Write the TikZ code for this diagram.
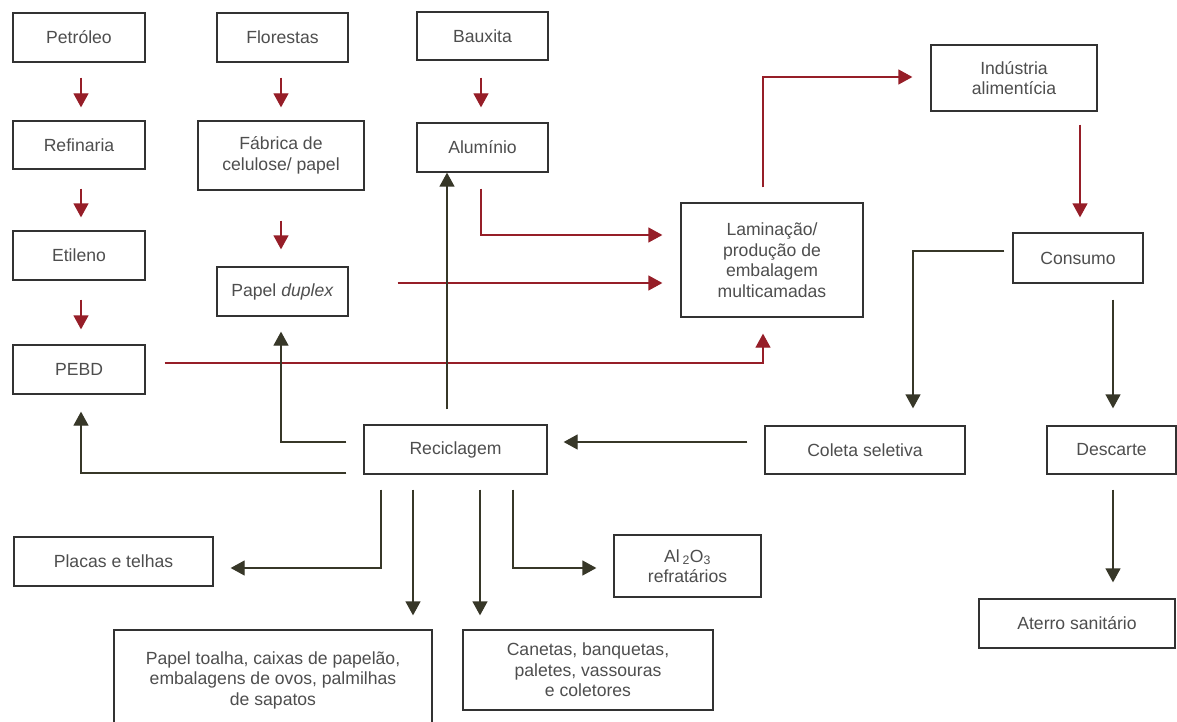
\documentclass[tikz,border=0pt]{standalone}
\usepackage{fontspec}
\setmainfont{Liberation Sans}
\usetikzlibrary{arrows.meta,calc}
\definecolor{redc}{RGB}{150,30,40}
\definecolor{darkc}{RGB}{55,55,40}
\definecolor{boxc}{RGB}{50,50,50}
\definecolor{txtc}{RGB}{78,78,78}
\begin{document}
\begin{tikzpicture}[x=1pt,y=-1pt,
  box/.style={draw=boxc, line width=1.3pt, text=txtc, font=\fontsize{17.6}{20.5}\selectfont, align=center, inner sep=0pt},
  redarr/.style={draw=redc, line width=1.3pt, -{Triangle[length=14pt,width=15pt]}},
  darkarr/.style={draw=darkc, line width=1.3pt, -{Triangle[length=14pt,width=15pt]}}]
\useasboundingbox (0,0) rectangle (1177,722);
\fill[white] (0,0) rectangle (1177,722);
\clip (0,0) rectangle (1177,722);
% boxes
\node[box, minimum width=132pt, minimum height=49pt] (pet) at (79,37.5) {Petróleo};
\node[box, minimum width=131pt, minimum height=49pt] (flo) at (282.5,37.5) {Florestas};
\node[box, minimum width=131pt, minimum height=48pt] (bau) at (482.5,36) {Bauxita};
\node[box, minimum width=132pt, minimum height=48pt] (ref) at (79,145) {Refinaria};
\node[box, minimum width=166pt, minimum height=69pt] (fab) at (281,155.5) {Fábrica de\\celulose/ papel};
\node[box, minimum width=131pt, minimum height=49pt] (alu) at (482.5,147.5) {Alumínio};
\node[box, minimum width=166pt, minimum height=66pt] (ind) at (1014,78) {Indústria\\alimentícia};
\node[box, minimum width=132pt, minimum height=49pt] (eti) at (79,255.5) {Etileno};
\node[box, minimum width=131pt, minimum height=49pt] (dup) at (282.5,291.5) {Papel \textit{duplex}};
\node[box, minimum width=182pt, minimum height=114pt] (lam) at (772,260) {Laminação/\\produção de\\embalagem\\multicamadas};
\node[box, minimum width=130pt, minimum height=50pt] (con) at (1078,258) {Consumo};
\node[box, minimum width=132pt, minimum height=49pt] (pebd) at (79,369.5) {PEBD};
\node[box, minimum width=183pt, minimum height=49pt] (rec) at (455.5,449.5) {Reciclagem};
\node[box, minimum width=200pt, minimum height=48pt] (col) at (865,450) {Coleta seletiva};
\node[box, minimum width=129pt, minimum height=48pt] (des) at (1111.5,450) {Descarte};
\node[box, minimum width=199pt, minimum height=49pt] (pla) at (113.5,561.5) {Placas e telhas};
\node[box, minimum width=147pt, minimum height=62pt] (al2) at (687.5,566) {Al\,\textsubscript{2}O\textsubscript{3}\\refratários};
\node[box, minimum width=318pt, minimum height=100pt] (pto) at (273,680) {Papel toalha, caixas de papelão,\\embalagens de ovos, palmilhas\\de sapatos};
\node[box, minimum width=250pt, minimum height=80pt] (can) at (588,670) {Canetas, banquetas,\\paletes, vassouras\\e coletores};
\node[box, minimum width=196pt, minimum height=49pt] (ate) at (1077,623.5) {Aterro sanitário};
% red connectors
\draw[redarr] ($(pet.south)+(2,15)$) -- ($(ref.north)+(2,-13)$);
\draw[redarr] ($(ref.south)+(2,19)$) -- ($(eti.north)+(2,-13)$);
\draw[redarr] ($(eti.south)+(2,19)$) -- ($(pebd.north)+(2,-15)$);
\draw[redarr] ($(flo.south)+(-1.5,15)$) -- ($(fab.north)+(0,-13)$);
\draw[redarr] ($(fab.south)+(0,30)$) -- ($(dup.north)+(-1.5,-17)$);
\draw[redarr] ($(bau.south)+(-1.5,17)$) -- ($(alu.north)+(-1.5,-15)$);
\draw[redarr] ($(alu.south)+(-1.5,16)$) |- ($(lam.west)+(-18,-25)$);
\draw[redarr] ($(dup.east)+(49,-8.5)$) -- ($(lam.west)+(-18,23)$);
\draw[redarr] ($(pebd.east)+(19,-6.5)$) -| ($(lam.south)+(-9,16)$);
\draw[redarr] ($(lam.north)+(-9,-15)$) |- ($(ind.west)+(-18,-1)$);
\draw[redarr] ($(ind.south -| con.north)+(2,13)$) -- ($(con.north)+(2,-15)$);
% dark connectors
\draw[darkarr] ($(con.west)+(-8,-7)$) -| ($(col.north)+(48,-17)$);
\draw[darkarr] ($(con.south)+(35,16)$) -- ($(des.north)+(1.5,-17)$);
\draw[darkarr] ($(des.south)+(1.5,15)$) -- ($(ate.north)+(36,-16)$);
\draw[darkarr] ($(col.west)+(-17,-8)$) -- ($(rec.east)+(16,-7.5)$);
\draw[darkarr] ($(rec.north)+(-8.5,-15)$) -- ($(alu.south)+(-35.5,0)$);
\draw[darkarr] ($(rec.west)+(-17,-7.5)$) -| ($(dup.south)+(-1.5,15)$);
\draw[darkarr] ($(rec.west)+(-17,23.5)$) -| ($(pebd.south)+(2,17)$);
\draw[darkarr] ($(rec.south)+(-74.5,15)$) |- ($(pla.east)+(17,6.5)$);
\draw[darkarr] ($(rec.south)+(-42.5,15)$) -- ($(pto.north)+(140,-14)$);
\draw[darkarr] ($(rec.south)+(24.5,15)$) -- ($(can.north)+(-108,-14)$);
\draw[darkarr] ($(rec.south)+(57.5,15)$) |- ($(al2.west)+(-17,2)$);
\end{tikzpicture}
\end{document}
